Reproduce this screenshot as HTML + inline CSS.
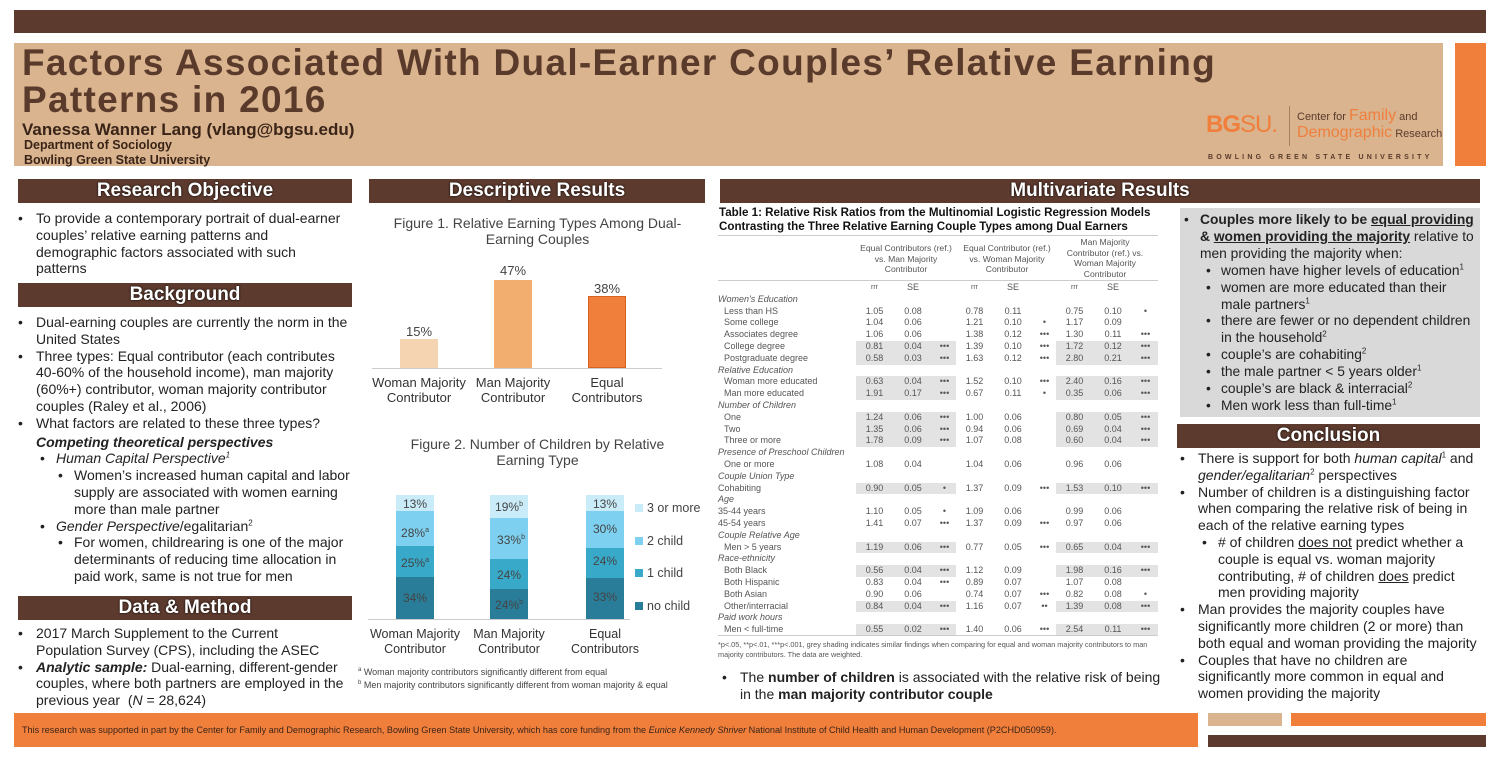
<!DOCTYPE html>
<html><head><meta charset="utf-8">
<style>
*{margin:0;padding:0;box-sizing:border-box}
body{width:1500px;height:758px;background:#fff;position:relative;overflow:hidden;font-family:"Liberation Sans",Arial,sans-serif;color:#222}
.a{position:absolute}
sup{font-size:8px;line-height:0;vertical-align:super}
.hb{position:absolute;background:#5c3a2e;color:#fff;font-weight:bold;font-size:19px;text-align:center;line-height:24px;height:24px;text-shadow:0 0 2px #000}
.txt{position:absolute;font-size:14px;line-height:16.8px;color:#222}
ul{list-style:none}
li{position:relative;padding-left:18px}
li:before{content:"•";position:absolute;left:0}
li.l2{padding-left:38px}li.l2:before{left:22px}
li.l3{padding-left:56px}li.l3:before{left:40px}
table{border-collapse:collapse;font-size:9px;color:#555}
td{height:11.8px;line-height:11.8px;padding:0;white-space:nowrap}
td.c{text-align:center}
td.s{background:#e3e3e3}
td.h{font-style:italic}
td.l{padding-left:6px}
.bar{position:absolute;font-size:12px;color:#444;text-align:center;width:38px}
.cat{position:absolute;width:94px;text-align:center;font-size:13px;line-height:15px;color:#333}
</style></head><body>
<div class="a" style="left:14px;top:10px;width:1472px;height:23px;background:#5c3a2e"></div>
<div class="a" style="left:14px;top:43px;width:1429px;height:123px;background:#d9b48f"></div>
<div class="a" style="left:1455px;top:43px;width:31px;height:123px;background:#f07f3c"></div>
<div class="a" style="left:22px;top:44px;font-size:37px;font-weight:bold;color:#5a3a2b;line-height:37px;letter-spacing:1.3px">Factors Associated With Dual-Earner Couples’ Relative Earning<br>Patterns in 2016</div>
<div class="a" style="left:22px;top:120px;font-size:17px;font-weight:bold;color:#3a2418">Vanessa Wanner Lang (vlang@bgsu.edu)</div>
<div class="a" style="left:24px;top:138px;font-size:12.5px;font-weight:bold;color:#3a2418;line-height:15px">Department of Sociology<br>Bowling Green State University</div>
<div class="a" style="left:1206px;top:111px;font-size:24px;color:#f07f3c;letter-spacing:-1px"><b>BG</b>SU.</div>
<div class="a" style="left:1289px;top:106px;width:1px;height:40px;background:#a08060"></div>
<div class="a" style="left:1297px;top:108px;font-size:11px;color:#5a3a2b;line-height:16px">Center for <span style="color:#f07f3c;font-size:16px">Family</span> and<br><span style="color:#f07f3c;font-size:16px">Demographic</span> Research</div>
<div class="a" style="left:1208px;top:154px;font-size:7px;font-weight:bold;color:#5a3a2b;letter-spacing:3.2px">BOWLING GREEN STATE UNIVERSITY</div>

<div class="hb" style="left:18px;top:179px;width:334px">Research Objective</div>
<div class="txt" style="left:18px;top:210px;width:334px"><ul><li>To provide a contemporary portrait of dual-earner couples’ relative earning patterns and demographic factors associated with such<br>patterns</li></ul></div>
<div class="hb" style="left:18px;top:283px;width:334px">Background</div>
<div class="txt" style="left:18px;top:314px;width:334px"><ul>
<li>Dual-earning couples are currently the norm in the United States</li>
<li>Three types: Equal contributor (each contributes 40-60% of the household income), man majority (60%+) contributor, woman majority contributor couples (Raley et al., 2006)</li>
<li>What factors are related to these three types?</li></ul>
<div style="padding-left:18px;font-weight:bold;font-style:italic;margin-top:2px">Competing theoretical perspectives</div>
<ul><li class="l2"><i>Human Capital Perspective<sup>1</sup></i></li>
<li class="l3">Women’s increased human capital and labor supply are associated with women earning more than male partner</li>
<li class="l2"><i>Gender Perspective</i>/egalitarian<sup>2</sup></li>
<li class="l3">For women, childrearing is one of the major determinants of reducing time allocation in paid work, same is not true for men</li></ul></div>
<div class="hb" style="left:18px;top:596px;width:334px">Data &amp; Method</div>
<div class="txt" style="left:18px;top:625px;width:334px"><ul>
<li>2017 March Supplement to the Current<br>Population Survey (CPS), including the ASEC</li>
<li><b><i>Analytic sample:</i></b> Dual-earning, different-gender<br>couples, where both partners are employed in the<br>previous year &nbsp;(<i>N</i> = 28,624)</li></ul></div>

<div class="hb" style="left:369px;top:179px;width:336px">Descriptive Results</div>
<div class="a" style="left:385px;top:215px;width:305px;text-align:center;font-size:14px;line-height:16px;color:#444">Figure 1. Relative Earning Types Among Dual-Earning Couples</div>
<div class="a" style="left:372px;top:368px;width:290px;height:1px;background:#ccc"></div>
<div class="a" style="left:400px;top:339px;width:38px;height:29px;background:#f5d5b1"></div>
<div class="a" style="left:494px;top:280px;width:38px;height:88px;background:#f2ae6f"></div>
<div class="a" style="left:588px;top:296px;width:38px;height:72px;background:#f07f3c;border:1px solid #d86020"></div>
<div class="bar" style="left:400px;top:324px;font-size:13px">15%</div>
<div class="bar" style="left:494px;top:263px;font-size:13px">47%</div>
<div class="bar" style="left:588px;top:281px;font-size:13px">38%</div>
<div class="cat" style="left:372px;top:375px">Woman Majority Contributor</div>
<div class="cat" style="left:466px;top:375px">Man Majority Contributor</div>
<div class="cat" style="left:560px;top:375px">Equal Contributors</div>

<div class="a" style="left:385px;top:436px;width:305px;text-align:center;font-size:14px;line-height:16px;color:#444">Figure 2. Number of Children by Relative Earning Type</div>
<div class="a" style="left:368px;top:619px;width:262px;height:1px;background:#ccc"></div>
<div class="a" style="left:396px;top:495px;width:38px">
<div style="height:16px;background:#c9ecf8"></div><div style="height:35px;background:#7dd0ef"></div><div style="height:31px;background:#38a9c8"></div><div style="height:42px;background:#2a7d99"></div></div>
<div class="bar" style="left:396px;top:497px">13%</div><div class="bar" style="left:396px;top:526px">28%<sup style="font-size:7px">a</sup></div><div class="bar" style="left:396px;top:556px">25%<sup style="font-size:7px">a</sup></div><div class="bar" style="left:396px;top:591px">34%</div>
<div class="a" style="left:490px;top:495px;width:38px">
<div style="height:23px;background:#c9ecf8"></div><div style="height:41px;background:#7dd0ef"></div><div style="height:30px;background:#38a9c8"></div><div style="height:30px;background:#2a7d99"></div></div>
<div class="bar" style="left:490px;top:500px">19%<sup style="font-size:7px">b</sup></div><div class="bar" style="left:492px;top:533px">33%<sup style="font-size:7px">b</sup></div><div class="bar" style="left:490px;top:568px">24%</div><div class="bar" style="left:490px;top:598px">24%<sup style="font-size:7px">b</sup></div>
<div class="a" style="left:586px;top:495px;width:38px">
<div style="height:16px;background:#c9ecf8"></div><div style="height:37px;background:#7dd0ef"></div><div style="height:30px;background:#38a9c8"></div><div style="height:41px;background:#2a7d99"></div></div>
<div class="bar" style="left:586px;top:497px">13%</div><div class="bar" style="left:586px;top:522px">30%</div><div class="bar" style="left:586px;top:554px">24%</div><div class="bar" style="left:586px;top:590px">33%</div>
<div class="a" style="left:635px;top:492px;font-size:12.5px;line-height:32.7px;color:#444">
<div><span style="display:inline-block;width:8px;height:8px;background:#c9ecf8;margin-right:4px"></span>3 or more</div>
<div><span style="display:inline-block;width:8px;height:8px;background:#7dd0ef;margin-right:4px"></span>2 child</div>
<div><span style="display:inline-block;width:8px;height:8px;background:#38a9c8;margin-right:4px"></span>1 child</div>
<div><span style="display:inline-block;width:8px;height:8px;background:#2a7d99;margin-right:4px"></span>no child</div></div>
<div class="cat" style="left:368px;top:627px;font-size:12.5px">Woman Majority Contributor</div>
<div class="cat" style="left:462px;top:627px;font-size:12.5px">Man Majority Contributor</div>
<div class="cat" style="left:558px;top:627px;font-size:12.5px">Equal Contributors</div>
<div class="a" style="left:358px;top:666px;font-size:9px;line-height:13px;color:#444"><sup style="font-size:6px">a</sup> Woman majority contributors significantly different from equal<br><sup style="font-size:6px">b</sup> Men majority contributors significantly different from woman majority &amp; equal</div>

<div class="hb" style="left:720px;top:179px;width:760px">Multivariate Results</div>
<div class="a" style="left:719px;top:206px;font-size:11.6px;font-weight:bold;line-height:14px;color:#111">Table 1: Relative Risk Ratios from the Multinomial Logistic Regression Models<br>Contrasting the Three Relative Earning Couple Types among Dual Earners</div>
<div class="a" style="left:718px;top:235px;width:440px;height:1px;background:#ccc"></div>
<div class="a" style="left:858px;top:243px;width:96px;text-align:center;font-size:8.6px;line-height:10.5px;color:#555">Equal Contributors (ref.) vs. Man Majority Contributor</div>
<div class="a" style="left:962px;top:243px;width:90px;text-align:center;font-size:8.6px;line-height:10.5px;color:#555">Equal Contributor (ref.) vs. Woman Majority Contributor</div>
<div class="a" style="left:1062px;top:237px;width:86px;text-align:center;font-size:8.6px;line-height:10.5px;color:#555">Man Majority Contributor (ref.) vs. Woman Majority Contributor</div>
<div class="a" style="left:718px;top:280px;width:440px;height:1px;background:#ccc"></div>
<table class="a" style="left:718px;top:282px;width:440px;table-layout:fixed">
<colgroup><col style="width:138px"><col style="width:37px"><col style="width:40px"><col style="width:23px"><col style="width:37px"><col style="width:40px"><col style="width:23px"><col style="width:37px"><col style="width:40px"><col style="width:25px"></colgroup>
<tr><td></td><td class="c" style="font-size:7px">rrr</td><td class="c">SE</td><td></td><td class="c" style="font-size:7px">rrr</td><td class="c">SE</td><td></td><td class="c" style="font-size:7px">rrr</td><td class="c">SE</td><td></td></tr>
<tr><td class="h" colspan="10">Women's Education</td></tr>
<tr><td class="l">Less than HS</td><td class="c">1.05</td><td class="c">0.08</td><td></td><td class="c">0.78</td><td class="c">0.11</td><td></td><td class="c">0.75</td><td class="c">0.10</td><td class="c">•</td></tr>
<tr><td class="l">Some college</td><td class="c">1.04</td><td class="c">0.06</td><td></td><td class="c">1.21</td><td class="c">0.10</td><td class="c">•</td><td class="c">1.17</td><td class="c">0.09</td><td></td></tr>
<tr><td class="l">Associates degree</td><td class="c">1.06</td><td class="c">0.06</td><td></td><td class="c">1.38</td><td class="c">0.12</td><td class="c">•••</td><td class="c">1.30</td><td class="c">0.11</td><td class="c">•••</td></tr>
<tr><td class="l">College degree</td><td class="c s">0.81</td><td class="c s">0.04</td><td class="c s">•••</td><td class="c">1.39</td><td class="c">0.10</td><td class="c">•••</td><td class="c s">1.72</td><td class="c s">0.12</td><td class="c s">•••</td></tr>
<tr><td class="l">Postgraduate degree</td><td class="c s">0.58</td><td class="c s">0.03</td><td class="c s">•••</td><td class="c">1.63</td><td class="c">0.12</td><td class="c">•••</td><td class="c s">2.80</td><td class="c s">0.21</td><td class="c s">•••</td></tr>
<tr><td class="h" colspan="10">Relative Education</td></tr>
<tr><td class="l">Woman more educated</td><td class="c s">0.63</td><td class="c s">0.04</td><td class="c s">•••</td><td class="c">1.52</td><td class="c">0.10</td><td class="c">•••</td><td class="c s">2.40</td><td class="c s">0.16</td><td class="c s">•••</td></tr>
<tr><td class="l">Man more educated</td><td class="c s">1.91</td><td class="c s">0.17</td><td class="c s">•••</td><td class="c">0.67</td><td class="c">0.11</td><td class="c">•</td><td class="c s">0.35</td><td class="c s">0.06</td><td class="c s">•••</td></tr>
<tr><td class="h" colspan="10">Number of Children</td></tr>
<tr><td class="l">One</td><td class="c s">1.24</td><td class="c s">0.06</td><td class="c s">•••</td><td class="c">1.00</td><td class="c">0.06</td><td></td><td class="c s">0.80</td><td class="c s">0.05</td><td class="c s">•••</td></tr>
<tr><td class="l">Two</td><td class="c s">1.35</td><td class="c s">0.06</td><td class="c s">•••</td><td class="c">0.94</td><td class="c">0.06</td><td></td><td class="c s">0.69</td><td class="c s">0.04</td><td class="c s">•••</td></tr>
<tr><td class="l">Three or more</td><td class="c s">1.78</td><td class="c s">0.09</td><td class="c s">•••</td><td class="c">1.07</td><td class="c">0.08</td><td></td><td class="c s">0.60</td><td class="c s">0.04</td><td class="c s">•••</td></tr>
<tr><td class="h" colspan="10">Presence of Preschool Children</td></tr>
<tr><td class="l">One or more</td><td class="c">1.08</td><td class="c">0.04</td><td></td><td class="c">1.04</td><td class="c">0.06</td><td></td><td class="c">0.96</td><td class="c">0.06</td><td></td></tr>
<tr><td class="h" colspan="10">Couple Union Type</td></tr>
<tr><td>Cohabiting</td><td class="c s">0.90</td><td class="c s">0.05</td><td class="c s">•</td><td class="c">1.37</td><td class="c">0.09</td><td class="c">•••</td><td class="c s">1.53</td><td class="c s">0.10</td><td class="c s">•••</td></tr>
<tr><td class="h" colspan="10">Age</td></tr>
<tr><td>35-44 years</td><td class="c">1.10</td><td class="c">0.05</td><td class="c">•</td><td class="c">1.09</td><td class="c">0.06</td><td></td><td class="c">0.99</td><td class="c">0.06</td><td></td></tr>
<tr><td>45-54 years</td><td class="c">1.41</td><td class="c">0.07</td><td class="c">•••</td><td class="c">1.37</td><td class="c">0.09</td><td class="c">•••</td><td class="c">0.97</td><td class="c">0.06</td><td></td></tr>
<tr><td class="h" colspan="10">Couple Relative Age</td></tr>
<tr><td class="l">Men &gt; 5 years</td><td class="c s">1.19</td><td class="c s">0.06</td><td class="c s">•••</td><td class="c">0.77</td><td class="c">0.05</td><td class="c">•••</td><td class="c s">0.65</td><td class="c s">0.04</td><td class="c s">•••</td></tr>
<tr><td class="h" colspan="10">Race-ethnicity</td></tr>
<tr><td class="l">Both Black</td><td class="c s">0.56</td><td class="c s">0.04</td><td class="c s">•••</td><td class="c">1.12</td><td class="c">0.09</td><td></td><td class="c s">1.98</td><td class="c s">0.16</td><td class="c s">•••</td></tr>
<tr><td class="l">Both Hispanic</td><td class="c">0.83</td><td class="c">0.04</td><td class="c">•••</td><td class="c">0.89</td><td class="c">0.07</td><td></td><td class="c">1.07</td><td class="c">0.08</td><td></td></tr>
<tr><td class="l">Both Asian</td><td class="c">0.90</td><td class="c">0.06</td><td></td><td class="c">0.74</td><td class="c">0.07</td><td class="c">•••</td><td class="c">0.82</td><td class="c">0.08</td><td class="c">•</td></tr>
<tr><td class="l">Other/interracial</td><td class="c s">0.84</td><td class="c s">0.04</td><td class="c s">•••</td><td class="c">1.16</td><td class="c">0.07</td><td class="c">••</td><td class="c s">1.39</td><td class="c s">0.08</td><td class="c s">•••</td></tr>
<tr><td class="h" colspan="10">Paid work hours</td></tr>
<tr><td class="l">Men &lt; full-time</td><td class="c s">0.55</td><td class="c s">0.02</td><td class="c s">•••</td><td class="c">1.40</td><td class="c">0.06</td><td class="c">•••</td><td class="c s">2.54</td><td class="c s">0.11</td><td class="c s">•••</td></tr>
</table>
<div class="a" style="left:718px;top:635px;width:440px;height:1px;background:#ccc"></div>
<div class="a" style="left:718px;top:640px;width:440px;font-size:7.3px;line-height:9.5px;color:#555">*p&lt;.05, **p&lt;.01, ***p&lt;.001, grey shading indicates similar findings when comparing for equal and woman majority contributors to man majority contributors. The data are weighted.</div>
<div class="txt" style="left:722px;top:669px;width:440px;font-size:14px;line-height:16.5px"><ul><li>The <b>number of children</b> is associated with the relative risk of being in the <b>man majority contributor couple</b></li></ul></div>

<div class="a" style="left:1180px;top:208px;width:300px;height:209px;background:#d9d9d9"></div>
<div class="txt" style="left:1184px;top:212px;width:299px;line-height:16.9px;font-size:13.8px"><ul>
<li style="padding-left:16px"><b>Couples more likely to be <u>equal providing</u> &amp; <u>women providing the majority</u></b> relative to men providing the majority when:</li>
<li class="l2" style="padding-left:37px">women have higher levels of education<sup>1</sup></li>
<li class="l2" style="padding-left:37px">women are more educated than their<br>male partners<sup>1</sup></li>
<li class="l2" style="padding-left:37px">there are fewer or no dependent children in the household<sup>2</sup></li>
<li class="l2" style="padding-left:37px">couple’s are cohabiting<sup>2</sup></li>
<li class="l2" style="padding-left:37px">the male partner &lt; 5 years older<sup>1</sup></li>
<li class="l2" style="padding-left:37px">couple’s are black &amp; interracial<sup>2</sup></li>
<li class="l2" style="padding-left:37px">Men work less than full-time<sup>1</sup></li></ul></div>
<div class="hb" style="left:1177px;top:424px;width:303px">Conclusion</div>
<div class="txt" style="left:1180px;top:450px;width:300px;line-height:16.8px"><ul>
<li>There is support for both <i>human capital</i><sup>1</sup> and <i>gender/egalitarian</i><sup>2</sup> perspectives</li>
<li>Number of children is a distinguishing factor when comparing the relative risk of being in each of the relative earning types</li>
<li class="l2"># of children <u>does not</u> predict whether a couple is equal vs. woman majority contributing, # of children <u>does</u> predict men providing majority</li>
<li>Man provides the majority couples have significantly more children (2 or more) than both equal and woman providing the majority</li>
<li>Couples that have no children are significantly more common in equal and women providing the majority</li></ul></div>

<div class="a" style="left:14px;top:713px;width:1184px;height:34px;background:#f07f3c"></div>
<div class="a" style="left:22px;top:725px;font-size:9.1px;color:#3a2418">This research was supported in part by the Center for Family and Demographic Research, Bowling Green State University, which has core funding from the <i>Eunice Kennedy Shriver</i> National Institute of Child Health and Human Development (P2CHD050959).</div>
<div class="a" style="left:1208px;top:713px;width:74px;height:13px;background:#d9b48f"></div>
<div class="a" style="left:1291px;top:713px;width:195px;height:13px;background:#f07f3c"></div>
<div class="a" style="left:1208px;top:735px;width:278px;height:12px;background:#5c3a2e"></div>
</body></html>
